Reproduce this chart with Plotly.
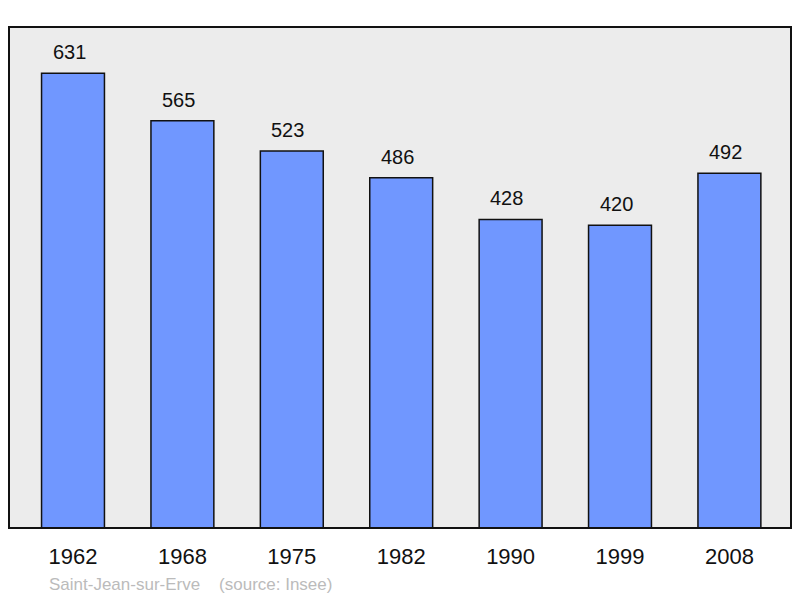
import plotly.graph_objects as go

years = ["1962", "1968", "1975", "1982", "1990", "1999", "2008"]
population = [631, 565, 523, 486, 428, 420, 492]
caption = "Saint-Jean-sur-Erve\u00a0\u00a0\u00a0\u00a0(source: Insee)"

FONT = "Liberation Sans, Arial, sans-serif"

fig = go.Figure()
fig.add_trace(go.Bar(
    x=list(range(len(years))), y=population,
    width=0.575,
    marker=dict(color="#7097ff", line=dict(color="#111111", width=1.5)),
    hoverinfo="skip",
))

for i, v in enumerate(population):
    fig.add_annotation(x=i, y=v, text=str(v), showarrow=False,
                       yanchor="bottom", yshift=8, xshift=-4,
                       font=dict(size=20, color="#111111", family=FONT))

fig.add_annotation(x=(47 - 9) / 782, y=-(584 - 528) / 501, xref="paper", yref="paper",
                   xanchor="left", yanchor="middle", text=caption, showarrow=False,
                   font=dict(size=17, color="#bbbbbb", family=FONT))

fig.update_layout(
    width=800, height=598,
    margin=dict(l=9, r=9, t=27, b=70),
    paper_bgcolor="white", plot_bgcolor="#ececec",
    showlegend=False,
    font=dict(family=FONT),
    xaxis=dict(range=[-0.585, 6.563], tickmode="array",
               tickvals=list(range(len(years))), ticktext=years,
               tickfont=dict(size=22, color="#111111"), showgrid=False,
               zeroline=False, ticks="outside", ticklen=9, tickcolor="rgba(0,0,0,0)"),
    yaxis=dict(range=[0, 695], showgrid=False, zeroline=False, showticklabels=False),
)

fig.add_shape(type="rect", xref="paper", yref="paper", x0=0, y0=0, x1=1, y1=1,
              line=dict(color="#111111", width=2), layer="above")

fig.write_html("out.html", config={"displayModeBar": False},
               post_script="document.body.style.margin='0';")
